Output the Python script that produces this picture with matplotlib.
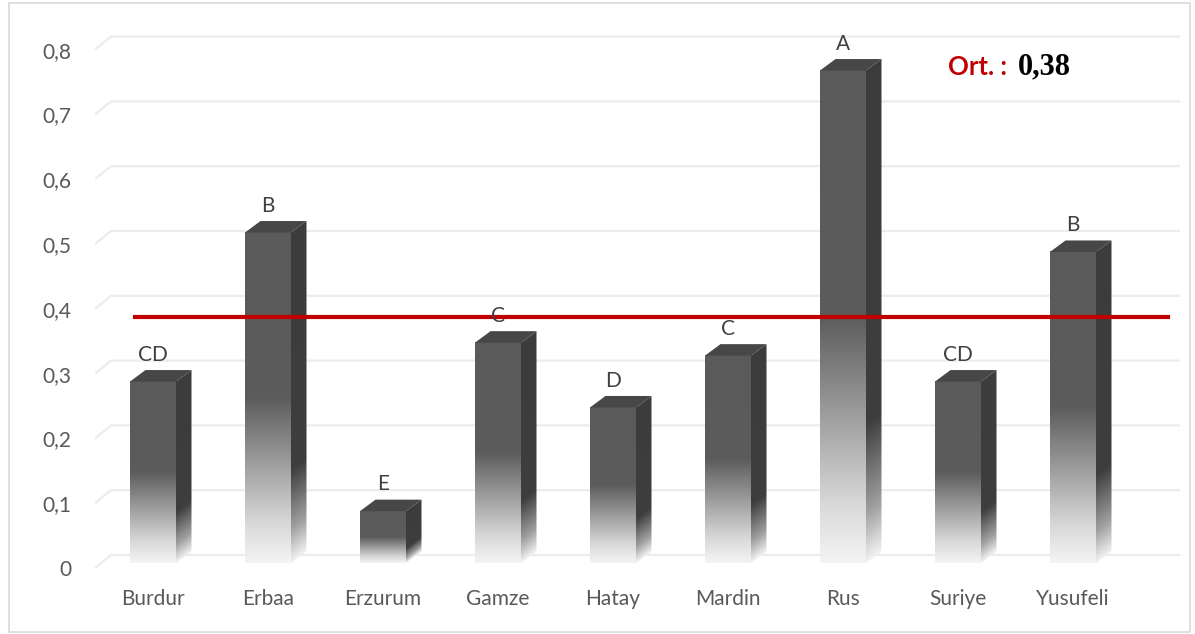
import numpy as np
import matplotlib
matplotlib.use("Agg")
import matplotlib.pyplot as plt
from matplotlib.colors import LinearSegmentedColormap
from matplotlib.patches import Polygon, Rectangle
from matplotlib.transforms import ScaledTranslation

plt.rcParams['font.family'] = ['Lato', 'DejaVu Sans']

# data
cities = ["Burdur", "Erbaa", "Erzurum", "Gamze", "Hatay", "Mardin", "Rus", "Suriye", "Yusufeli"]
values = [0.28, 0.51, 0.08, 0.34, 0.24, 0.32, 0.76, 0.28, 0.48]
groups = ["CD", "B", "E", "C", "D", "C", "A", "CD", "B"]
mean_value = 0.38
yticks = [0, 0.1, 0.2, 0.3, 0.4, 0.5, 0.6, 0.7, 0.8]
ytick_labels = ["0", "0,1", "0,2", "0,3", "0,4", "0,5", "0,6", "0,7", "0,8"]

W, H = 1195, 634
fig = plt.figure(figsize=(W / 100, H / 100), dpi=100)
ax = fig.add_axes([95 / W, (H - 590) / H, (1180 - 95) / W, 570 / H])
ax.set_xlim(-0.5043, 8.9304)
ax.set_ylim(-0.0417, 0.838)
for s in ax.spines.values():
    s.set_visible(False)


def px(dx, dy):
    # pixel offset -> data offset
    p0 = ax.transData.transform((0, 0))
    q = ax.transData.inverted().transform((p0[0] + dx, p0[1] + dy))
    return q[0], q[1]


def shift(dx, dy):
    return ScaledTranslation(dx / 100, dy / 100, fig.dpi_scale_trans)


# floor/back gridlines with a short slanted front piece
gx0 = ax.get_xlim()[0]
gx1 = ax.get_xlim()[1]
bdx, _ = px(16, 0)
_, fdy = px(0, -5)
_, bdy = px(0, 8)
for v in yticks:
    ax.plot([gx0, gx0 + bdx, gx1], [v + fdy, v + bdy, v + bdy],
            color="#ececec", lw=1.6, zorder=1, solid_capstyle="butt")

# 3D-looking bars
bar_w = 0.4
ddx, ddy = px(15.5, 11.5)
front_cmap = LinearSegmentedColormap.from_list(
    "front", [(0, "#f4f4f4"), (0.12, "#d8d8d8"), (0.5, "#5c5c5c"), (1, "#5a5a5a")])
side_cmap = LinearSegmentedColormap.from_list(
    "side", [(0, "#f0f0f0"), (0.1, "#a0a0a0"), (0.28, "#3e3e3e"), (1, "#3c3c3c")])

for i, v in enumerate(values):
    x0, x1 = i - bar_w / 2, i + bar_w / 2
    grad = np.linspace(0, 1, 256).reshape(-1, 1)
    ax.imshow(grad, cmap=front_cmap, extent=[x0, x1, 0, v], origin="lower",
              aspect="auto", zorder=3, interpolation="bilinear")

    # side face, gradient follows the slant
    nx, ny = 20, 300
    xs = np.linspace(x1, x1 + ddx, nx)
    ys = np.linspace(0, v + ddy, ny)
    xx, yy = np.meshgrid(xs, ys)
    t = np.clip((yy - ddy * (xx - x1) / ddx) / v, 0, 1)
    side = Polygon([(x1, 0), (x1 + ddx, ddy), (x1 + ddx, v + ddy), (x1, v)],
                   closed=True, facecolor="none", edgecolor="none")
    ax.add_patch(side)
    im = ax.imshow(t, cmap=side_cmap, vmin=0, vmax=1,
                   extent=[x1, x1 + ddx, 0, v + ddy], origin="lower",
                   aspect="auto", zorder=3, interpolation="bilinear")
    im.set_clip_path(side)

    top = Polygon([(x0, v), (x0 + ddx, v + ddy), (x1 + ddx, v + ddy), (x1, v)],
                  closed=True, facecolor="#474747", edgecolor="none", zorder=4)
    ax.add_patch(top)

    ax.annotate(groups[i], (i, v), xytext=(0, 15), textcoords="offset points",
                ha="center", va="baseline", fontsize=15, color="#404040", zorder=6)

# mean line
ax.axhline(mean_value, xmin=0.037, xmax=0.989, color="#c00000", lw=3, zorder=5)

ax.set_xticks(range(len(cities)), cities)
ax.set_yticks(yticks, ytick_labels)
ax.tick_params(length=0, labelsize=15, labelcolor="#595959")
ax.tick_params(axis="x", pad=-1)
ax.tick_params(axis="y", pad=17)
for lbl in ax.get_yticklabels():
    lbl.set_transform(lbl.get_transform() + shift(0, -5))

fig.text(948 / W, 1 - 67 / H, "Ort. :", color="#c00000", fontsize=18.5,
         fontweight="bold", ha="left", va="center")
fig.text(1018 / W, 1 - 67 / H, "0,38", color="black", fontsize=22,
         fontweight="bold", family="Liberation Serif", ha="left", va="center")

# chart frame
fig.patches.append(Rectangle((9 / W, 2 / H), 1181 / W, 629 / H, transform=fig.transFigure,
                             facecolor="none", edgecolor="#d9d9d9", lw=1.2))

fig.savefig("out.png", dpi=100)
